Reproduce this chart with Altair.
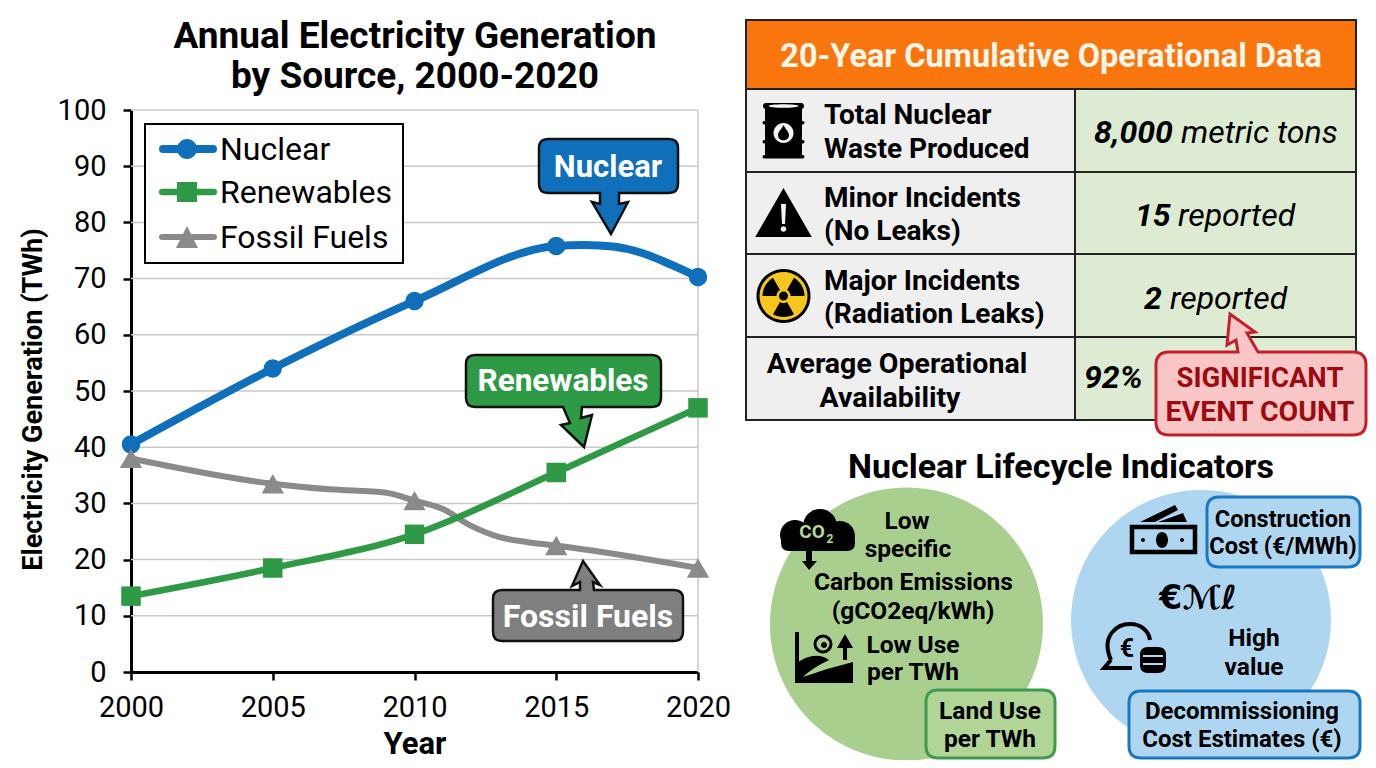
import math
import re
import altair as alt
import pandas as pd

# ---------- chart values ----------
YEARS = [2000, 2005, 2010, 2015, 2020]
NUCLEAR = [40.5, 54, 66, 75.8, 70.3]
RENEWABLES = [13.5, 18.5, 24.5, 35.5, 47]
FOSSIL = [38, 33.5, 30.5, 22.5, 18.5]
# curve readings between the marked years
NUCLEAR_CURVE = [(2016, 76), (2017, 75.7), (2018, 74.6), (2019, 72.6)]
FOSSIL_CURVE = [(2007, 32.5), (2009, 31.9), (2011, 29), (2012, 26), (2013, 24), (2014, 23.1)]
SERIES = ["Nuclear", "Renewables", "Fossil Fuels"]
BLUE, GREEN, GRAY = "#0f6fba", "#2f9a45", "#8a8a8a"
FONT = "Roboto"

# ---------- scales ----------
XS = alt.Scale(domain=[2000, 2020], range=[123, 690], nice=False, zero=False)
YS = alt.Scale(domain=[0, 100], range=[664, 102], nice=False, zero=False)
PX = alt.Scale(domain=[8, 1368], range=[0, 1360], nice=False, zero=False)
PY = alt.Scale(domain=[8, 760], range=[0, 752], nice=False, zero=False)


def series_df(vals, extra=()):
    rows = sorted(list(zip(YEARS, vals)) + list(extra))
    return pd.DataFrame(rows, columns=["year", "value"])


x_plain = alt.X("year:Q", scale=XS, axis=None)
y_plain = alt.Y("value:Q", scale=YS, axis=None)

gridH = alt.Chart(pd.DataFrame({"value": list(range(10, 101, 10)), "a": [2000] * 10, "b": [2020] * 10})).mark_rule(
    color="#c9c9c9", strokeWidth=1.5
).encode(x=alt.X("a:Q", scale=XS, axis=None), x2="b:Q", y=y_plain)
gridV = alt.Chart(pd.DataFrame({"year": [2020], "a": [0], "b": [100]})).mark_rule(
    color="#c9c9c9", strokeWidth=1.5
).encode(x=x_plain, y=alt.Y("a:Q", scale=YS, axis=None), y2="b:Q")

axes = alt.Chart(pd.DataFrame({"year": [2000], "value": [0]})).mark_point(opacity=0).encode(
    x=alt.X("year:Q", scale=XS, title="Year", axis=alt.Axis(
        values=YEARS, format="d", offset=-88, grid=False, domainColor="#000", domainWidth=3, tickColor="#000",
        tickWidth=2.5, tickSize=8, labelFont=FONT, labelFontSize=29, labelColor="#000", labelPadding=13,
        labelFlush=False, labelOverlap=False, titleFont=FONT, titleFontSize=31, titleFontWeight="bold",
        titleColor="#000", titlePadding=7)),
    y=alt.Y("value:Q", scale=YS, title="Electricity Generation (TWh)", axis=alt.Axis(
        values=list(range(0, 101, 10)), offset=-123, grid=False, domainColor="#000", domainWidth=3, tickColor="#000",
        tickWidth=2.5, tickSize=8, labelFont=FONT, labelFontSize=29, labelColor="#000", labelPadding=17,
        labelOverlap=False, titleFont=FONT, titleFontSize=27, titleFontWeight="bold", titleColor="#000",
        titlePadding=10, titleY=391)),
)

line_layers = []
for vals, extra, col, w in [
    (NUCLEAR, NUCLEAR_CURVE, BLUE, 8),
    (FOSSIL, FOSSIL_CURVE, GRAY, 6),
    (RENEWABLES, (), GREEN, 6.5),
]:
    line_layers.append(alt.Chart(series_df(vals, extra)).mark_line(
        color=col, strokeWidth=w, interpolate="monotone").encode(x=x_plain, y=y_plain))
for vals, col, shape, size in [
    (NUCLEAR, BLUE, "circle", 340),
    (RENEWABLES, GREEN, "square", 380),
    (FOSSIL, GRAY, "triangle-up", 500),
]:
    line_layers.append(alt.Chart(series_df(vals)).mark_point(
        filled=True, color=col, shape=shape, size=size, opacity=1).encode(x=x_plain, y=y_plain))

left = alt.layer(gridH, gridV, *line_layers)

# ---------- decoration shapes ----------
TOK = re.compile(r"[A-Za-z]|-?\d+\.?\d*")
shapes = []


def add(d, fill, stroke="transparent", sw=0):
    toks = TOK.findall(d)
    nums = [float(t) for t in toks if not t.isalpha()]
    xs, ys = nums[0::2], nums[1::2]
    ax, ay = (min(xs) + max(xs)) / 2, (min(ys) + max(ys)) / 2
    out, i = [], 0
    for t in toks:
        if t.isalpha():
            out.append(t)
        else:
            out.append(f"{float(t) - (ax if i % 2 == 0 else ay):.2f}")
            i += 1
    shapes.append({"x": ax, "y": ay, "path": " ".join(out), "fill": fill, "stroke": stroke, "sw": sw})


def poly(pts):
    return "M" + " L".join(f"{a} {b}" for a, b in pts) + " Z"


def rrect(x0, y0, x1, y1, r=0, top=(), bottom=()):
    d = f"M{x0 + r} {y0} "
    for a, b in top:
        d += f"L{a} {b} "
    d += f"L{x1 - r} {y0} Q{x1} {y0} {x1} {y0 + r} L{x1} {y1 - r} Q{x1} {y1} {x1 - r} {y1} "
    for a, b in bottom:
        d += f"L{a} {b} "
    d += f"L{x0 + r} {y1} Q{x0} {y1} {x0} {y1 - r} L{x0} {y0 + r} Q{x0} {y0} {x0 + r} {y0} Z"
    return d


def circ(cx, cy, r, ry=None):
    ry = r if ry is None else ry
    k, l = 0.5523 * r, 0.5523 * ry
    return (f"M{cx - r} {cy} C{cx - r} {cy - l} {cx - k} {cy - ry} {cx} {cy - ry} "
            f"C{cx + k} {cy - ry} {cx + r} {cy - l} {cx + r} {cy} "
            f"C{cx + r} {cy + l} {cx + k} {cy + ry} {cx} {cy + ry} "
            f"C{cx - k} {cy + ry} {cx - r} {cy + l} {cx - r} {cy} Z")


def sector(cx, cy, r0, r1, a0, a1):
    pts = []
    for i in range(9):
        a = math.radians(a0 + (a1 - a0) * i / 8)
        pts.append((round(cx + r1 * math.cos(a), 2), round(cy + r1 * math.sin(a), 2)))
    for i in range(8, -1, -1):
        a = math.radians(a0 + (a1 - a0) * i / 8)
        pts.append((round(cx + r0 * math.cos(a), 2), round(cy + r0 * math.sin(a), 2)))
    return poly(pts)


INK = "#111111"
# legend
add(rrect(145, 124, 403, 263), "#ffffff", "#000000", 2)
for yy, col, th in [(149, BLUE, 8), (192, GREEN, 6.5), (237, GRAY, 6)]:
    add(rrect(159, yy - th / 2, 217, yy + th / 2, th / 2), col)
add(circ(187, 149, 10), BLUE)
add(rrect(177, 182, 197, 202), GREEN)
add(poly([(187, 226), (198, 248), (176, 248)]), GRAY)

# chart callouts
add(rrect(539, 139, 678, 193, 9, bottom=[(619, 193), (619, 204), (628, 202), (611, 234), (592, 202), (600, 204), (600, 193)]), BLUE, INK, 2.5)
add(rrect(466, 355, 661, 407, 9, bottom=[(582, 407), (581, 418), (592, 415), (584, 447), (561, 425), (570, 423), (563, 407)]), GREEN, INK, 2.5)
add(rrect(493, 590, 683, 641, 9, top=[(580, 590), (580, 582), (572, 586), (583, 561), (600, 585), (593, 582), (594, 590)]), "#7f7f7f", INK, 2.5)

# table
add(rrect(746, 20, 1356, 89), "#f9760f", "#222222", 2)
for y0, y1 in [(89, 172), (172, 254), (254, 337), (337, 420)]:
    add(rrect(746, y0, 1075, y1), "#efefef", "#222222", 2)
    add(rrect(1075, y0, 1356, y1), "#dcebd1", "#222222", 2)

# barrel icon
add(rrect(765, 104, 802, 157, 3), "#000000")
for yy in (121, 140, 155):
    add(rrect(762.5, yy, 804.5, yy + 3.5, 1.7), "#000000")
add(rrect(763, 103, 804, 109, 3), "#000000")
add(circ(783.5, 106, 15, 1.8), "#f3f3f3")
add(circ(783.5, 133, 10), "#f3f3f3")
add("M783.5 125 C786 130 789 132 789 135 C789 142 778 142 778 135 C778 132 781 130 783.5 125 Z", "#000000")
# warning icon
add(poly([(783.5, 190), (810, 236), (757, 236)]), "#000000", "#000000", 2)
add(poly([(781, 204), (786, 204), (785, 224), (782, 224)]), "#f3f3f3")
add(circ(783.5, 229, 2.8), "#f3f3f3")
# radiation icon
add(circ(783.5, 296, 27), "#000000")
add(circ(783.5, 296, 24), "#f6c61f")
for a in (-150, -30, 90):
    add(sector(783.5, 296, 7, 21, a - 30, a + 30), "#000000")
add(circ(783.5, 296, 4.5), "#000000")

# red callout
add(rrect(1156, 352, 1366, 435, 13, top=[(1238, 352), (1236, 340), (1227, 345), (1230, 314), (1255, 332), (1247, 333), (1258, 352)]), "#f8c6c6", "#c4202c", 3)

# circles
add(circ(906.5, 624, 136.5), "#a9cf8e")
add(circ(1201, 620, 130), "#aed6f1")
add(rrect(926, 690, 1055, 758, 12), "#b0d596", "#3f9a4e", 3)
add(rrect(1207, 497, 1360, 567, 12), "#aed6f1", "#1a78c2", 3)
add(rrect(1129, 691, 1360, 758, 12), "#aed6f1", "#1a78c2", 3)

# CO2 cloud
for c in [(795, 535, 15), (820, 526, 17), (840, 536, 15)]:
    add(circ(*c), "#000000")
add(rrect(781, 535, 855, 551, 8), "#000000")
add(poly([(806, 548), (812, 548), (812, 561), (817, 561), (809, 570), (802, 561), (806, 561)]), "#000000")
# land icon
add(rrect(795, 632, 799, 683), "#000000")
add("M795 683 L795 664 Q815 650 829 660 Q812 668 803 677 Q828 668 853 662 L853 683 Z", "#000000")
add(circ(823, 644, 8), "transparent", "#000000", 3)
add(circ(824, 645, 3), "#000000")
add(poly([(843, 660), (843, 648), (837, 648), (845, 634), (853, 648), (847, 648), (847, 660)]), "#000000")
# money icon
add(rrect(1132, 527, 1195, 552), "transparent", "#000000", 4.5)
add(poly([(1140, 522), (1175, 505), (1178, 510), (1155, 522)]), "#000000")
add(poly([(1158, 522), (1183, 513), (1187, 522)]), "#000000")
add(circ(1162, 540, 6, 8), "#000000")
add(circ(1143, 540, 2), "#000000")
add(circ(1182, 540, 2), "#000000")
# speech / coins icon
add("M1111 660 C1100 635 1118 624 1130 624 C1142 624 1149 632 1150 640", "transparent", "#000000", 4)
add("M1132 668 L1104 668 L1111 660", "transparent", "#000000", 4)
add(rrect(1140, 647, 1166, 673, 8), "#000000")
add(rrect(1143, 655, 1163, 657), "#aed6f1")
add(rrect(1143, 663, 1163, 665), "#aed6f1")

shape_layer = alt.Chart(pd.DataFrame(shapes)).mark_point(filled=True, opacity=1, size=4).encode(
    x=alt.X("x:Q", scale=PX, axis=None),
    y=alt.Y("y:Q", scale=PY, axis=None),
    shape=alt.Shape("path:N", scale=None),
    fill=alt.Fill("fill:N", scale=None),
    stroke=alt.Stroke("stroke:N", scale=None),
    strokeWidth=alt.StrokeWidth("sw:Q", scale=None),
)


# ---------- text ----------
def txt(rows, weight="normal", style="normal", align="center", font=FONT):
    df = pd.DataFrame(rows, columns=["t", "x", "y", "s", "c"])
    df["y"] = df["y"] + 1
    return alt.Chart(df).mark_text(font=font, fontWeight=weight, fontStyle=style, align=align, baseline="middle").encode(
        x=alt.X("x:Q", scale=PX, axis=None),
        y=alt.Y("y:Q", scale=PY, axis=None),
        text="t:N",
        size=alt.Size("s:Q", scale=None),
        color=alt.Color("c:N", scale=None),
    )


K = "#000000"
W = "#ffffff"
bold_center = [
    ("Annual Electricity Generation", 415, 36, 37, K),
    ("by Source, 2000-2020", 415, 76, 37, K),
    (SERIES[0], 608, 167, 31, W),
    (SERIES[1], 563, 381, 31.5, W),
    (SERIES[2], 588, 616, 32, W),
    ("20-Year Cumulative Operational Data", 1051, 56, 32.5, "#fff6ea"),
    ("Average Operational", 897, 363, 28.5, K),
    ("Availability", 890, 397, 28.5, K),
    ("SIGNIFICANT", 1260, 378, 27.5, "#9c0a10"),
    ("EVENT COUNT", 1260, 411, 28.5, "#9c0a10"),
    ("Nuclear Lifecycle Indicators", 1061, 467, 34, K),
    ("Low", 907, 521, 24.5, K),
    ("specific", 908, 549, 24.5, K),
    ("Carbon Emissions", 913.5, 582, 24.5, K),
    ("(gCO2eq/kWh)", 913, 611, 24.5, K),
    ("Low Use", 913, 645, 24.5, K),
    ("per TWh", 913, 672, 24.5, K),
    ("Land Use", 990, 711, 24.5, K),
    ("per TWh", 990, 739, 24.5, K),
    ("High", 1254, 638, 24.5, K),
    ("value", 1254, 667, 24.5, K),
    ("Construction", 1283, 519, 23.5, K),
    ("Cost (€/MWh)", 1283, 546, 23.5, K),
    ("Decommissioning", 1242, 711, 24, K),
    ("Cost Estimates (€)", 1242, 739, 24, K),
    ("CO", 812, 531, 19, "#b6d89e"),
    ("2", 830, 538, 12, "#b6d89e"),
    ("€", 1127, 648, 25, K),
]
bold_left = [
    ("Total Nuclear", 824, 115, 28, K),
    ("Waste Produced", 824, 149, 28, K),
    ("Minor Incidents", 824, 198, 28, K),
    ("(No Leaks)", 824, 231, 28, K),
    ("Major Incidents", 824, 281, 28, K),
    ("(Radiation Leaks)", 824, 314, 28, K),
]
bold_italic = [
    ("8,000", 1094, 132, 32, K),
    ("15", 1135, 215, 32, K),
    ("2", 1144, 298, 32, K),
    ("92%", 1084, 377, 32, K),
]
italic = [
    ("metric tons", 1181, 132, 32, K),
    ("reported", 1178, 215, 32, K),
    ("reported", 1170, 298, 32, K),
]
regular_left = [
    (SERIES[0], 220, 149, 32, K),
    (SERIES[1], 220, 192, 32, K),
    (SERIES[2], 220, 237, 32, K),
]
symbol = [("€ℳℓ", 1198, 598, 33, K)]

overlay = alt.layer(
    shape_layer,
    txt(bold_center, "bold"),
    txt(bold_left, "bold", align="left"),
    txt(bold_italic, "bold", "italic", "left"),
    txt(italic, "normal", "italic", "left"),
    txt(regular_left, align="left"),
    txt(symbol, "bold", font="DejaVu Sans"),
)

chart = alt.layer(axes, left, overlay).resolve_scale(x="independent", y="independent").properties(
    width=1360, height=752, padding=0, autosize=alt.AutoSizeParams(type="none"), background="#ffffff"
).configure_view(stroke=None)

chart.save("out.html", embed_options={"renderer": "svg", "actions": False})
